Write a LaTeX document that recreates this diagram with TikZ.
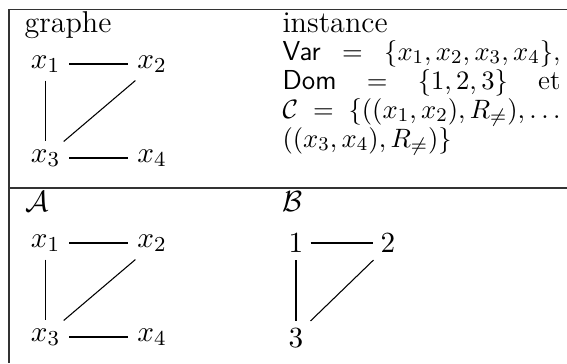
\documentclass[tikz,border=0pt]{standalone}
\usepackage{amsmath,amssymb,graphicx}
\newcommand{\instline}[1]{\scalebox{0.91}{\makebox[114.56pt][l]{#1}}}
\begin{document}
\begin{tikzpicture}[x=0.375pt,y=-0.375pt,
  every node/.style={font=\fontsize{11.3}{13.5}\selectfont},
  lbl/.style={anchor=base west,inner sep=0pt},
  vx/.style={inner sep=0pt,minimum width=17.25pt,minimum height=12pt},
  nb/.style={inner sep=0pt,minimum width=10.5pt,minimum height=12.4pt},
  edgeline/.style={line width=0.4pt},
  rulel/.style={line width=0.45pt,black!80}]
\useasboundingbox (0,0) rectangle (567,363);
% table rules
\coordinate (tl) at (9,9.5);
\coordinate (tr) at (567,9.5);
\coordinate (bl) at (9,363);
\coordinate (ml) at (9,188);
\coordinate (mr) at (567,188);
\draw[rulel] (tr) -- (tl) -- (bl);
\draw[rulel] (ml) -- (mr);
% headers
\node[lbl] (hg) at (24,32) {graphe};
\node[lbl] (hi) at (282,32) {instance};
\node[lbl] (ha) at (25,211) {$\mathcal{A}$};
\node[lbl] (hb) at (282,211) {$\mathcal{B}$};
% instance text
\node[lbl] (l1) at (282,60) {\instline{\textsf{Var}\hfill$=$\hfill$\{x_1,x_2,x_3,x_4\}$,}};
\node[lbl] (l2) at (282,89) {\instline{\textsf{Dom}\hfill$=$\hfill$\{1,2,3\}$\hfill et}};
\node[lbl] (l3) at (282,118) {\instline{$\mathcal{C}$\hfill$=$\hfill$\{((x_1,x_2),R_{\neq}),\ldots$}};
\node[lbl] (l4) at (282,147) {\instline{$((x_3,x_4),R_{\neq})\}$}};
% graphe
\node[vx] (g1) at (45.5,64) {$x_1$};
\node[vx] (g2) at (152,64) {$x_2$};
\node[vx] (g3) at (45.5,158) {$x_3$};
\node[vx] (g4) at (152,158) {$x_4$};
\draw[edgeline] (g1) -- (g2);
\draw[edgeline] (g1) -- (g3);
\draw[edgeline] (g3) -- (g4);
\draw[edgeline] ([xshift=-2pt]g3.north east) -- ([xshift=2.6pt]g2.south west);
% A
\node[vx] (a1) at (45.5,243) {$x_1$};
\node[vx] (a2) at (152,243) {$x_2$};
\node[vx] (a3) at (45.5,337) {$x_3$};
\node[vx] (a4) at (152,337) {$x_4$};
\draw[edgeline] (a1) -- (a2);
\draw[edgeline] (a1) -- (a3);
\draw[edgeline] (a3) -- (a4);
\draw[edgeline] ([xshift=-2pt]a3.north east) -- ([xshift=2.6pt]a2.south west);
% B
\node[nb] (b1) at (296,243) {$1$};
\node[nb] (b2) at (388,243) {$2$};
\node[nb] (b3) at (296,338) {$3$};
\draw[edgeline] (b1) -- (b2);
\draw[edgeline] (b1) -- (b3);
\draw[edgeline] (b3.north east) -- (b2.south west);
\end{tikzpicture}
\end{document}
